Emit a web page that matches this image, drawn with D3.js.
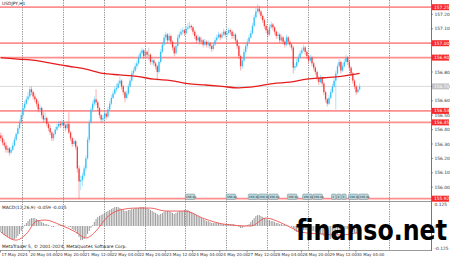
<!DOCTYPE html>
<html>
<head>
<meta charset="utf-8">
<script src="https://cdn.jsdelivr.net/npm/d3@7"></script>
<style>
  body { margin: 0; background: #fff; }
  svg { display: block; }
  text { font-family: "DejaVu Sans", sans-serif; }
</style>
</head>
<body>
<div id="chart"></div>
<script>
// USDJPY H1 bars, bar 0 = 17 May 11:00 (open of each bar = previous close)
var firstOpen = 156.36;
var closes = [
  156.34, 156.31, 156.29, 156.26, 156.27, 156.24, 156.26, 156.29, 156.33, 156.37,
  156.41, 156.45, 156.50, 156.55, 156.58, 156.61, 156.63, 156.68, 156.66, 156.63,
  156.61, 156.58, 156.54, 156.55, 156.50, 156.47, 156.48, 156.44, 156.41, 156.38,
  156.34, 156.37, 156.40, 156.42, 156.44, 156.43, 156.45, 156.43, 156.41, 156.44,
  156.38, 156.34, 156.30, 156.32, 156.28, 156.13, 156.04, 156.05, 156.08, 156.13,
  156.20, 156.33, 156.45, 156.54, 156.58, 156.61, 156.59, 156.55, 156.50, 156.47,
  156.48, 156.51, 156.49, 156.54, 156.58, 156.62, 156.65, 156.68, 156.69, 156.72,
  156.74, 156.70, 156.66, 156.62, 156.65, 156.70, 156.74, 156.79, 156.81, 156.84,
  156.86, 156.90, 156.93, 156.95, 156.91, 156.94, 156.92, 156.92, 156.87, 156.88,
  156.86, 156.84, 156.80, 156.87, 156.94, 156.99, 157.04, 157.06, 157.02, 157.05,
  157.01, 156.97, 156.93, 156.98, 157.04, 157.06, 157.08, 157.09, 157.07, 157.10,
  157.11, 157.12, 157.11, 157.08, 157.05, 157.02, 157.04, 157.01, 157.02, 156.99,
  157.01, 156.99, 157.00, 156.98, 156.96, 156.99, 157.02, 157.04, 157.06, 157.04,
  157.06, 157.08, 157.06, 157.07, 157.09, 157.08, 157.05, 157.06, 157.02, 156.98,
  156.91, 156.84, 156.88, 156.94, 156.98, 157.01, 157.04, 157.07, 157.12, 157.18,
  157.22, 157.24, 157.22, 157.19, 157.16, 157.12, 157.09, 157.06, 157.11, 157.13,
  157.11, 157.08, 157.05, 157.06, 157.02, 157.04, 157.01, 156.99, 157.04, 157.01,
  156.99, 156.97, 156.83, 156.84, 156.87, 156.90, 156.93, 156.95, 156.97, 156.94,
  156.91, 156.88, 156.90, 156.86, 156.83, 156.80, 156.76, 156.73, 156.76, 156.72,
  156.66, 156.61, 156.58, 156.62, 156.66, 156.70, 156.74, 156.79, 156.84, 156.87,
  156.81, 156.84, 156.87, 156.90, 156.87, 156.83, 156.79, 156.74, 156.70, 156.66,
  156.68, 156.70
];
var highs = [
  156.38, 156.36, 156.33, 156.31, 156.29, 156.28, 156.28, 156.31, 156.35, 156.38,
  156.43, 156.47, 156.52, 156.57, 156.60, 156.63, 156.66, 156.70, 156.70, 156.67,
  156.65, 156.62, 156.60, 156.57, 156.56, 156.52, 156.52, 156.49, 156.45, 156.43,
  156.39, 156.38, 156.42, 156.44, 156.46, 156.46, 156.47, 156.46, 156.44, 156.46,
  156.52, 156.39, 156.35, 156.34, 156.33, 156.29, 156.15, 156.08, 156.10, 156.15,
  156.22, 156.35, 156.47, 156.56, 156.60, 156.63, 156.68, 156.60, 156.56, 156.51,
  156.50, 156.53, 156.52, 156.56, 156.60, 156.64, 156.67, 156.70, 156.72, 156.74,
  156.77, 156.75, 156.71, 156.67, 156.67, 156.72, 156.76, 156.81, 156.83, 156.86,
  156.88, 156.92, 156.95, 156.97, 156.96, 156.96, 156.95, 156.97, 156.93, 156.90,
  156.89, 156.87, 156.85, 156.88, 156.96, 157.01, 157.06, 157.08, 157.07, 157.07,
  157.06, 157.02, 156.98, 157.00, 157.06, 157.08, 157.10, 157.11, 157.10, 157.12,
  157.14, 157.15, 157.13, 157.12, 157.09, 157.06, 157.06, 157.05, 157.04, 157.03,
  157.03, 157.02, 157.02, 157.01, 156.99, 157.01, 157.04, 157.06, 157.08, 157.07,
  157.08, 157.10, 157.09, 157.09, 157.11, 157.10, 157.09, 157.08, 157.07, 157.03,
  156.99, 156.92, 156.90, 156.96, 157.00, 157.03, 157.06, 157.09, 157.14, 157.20,
  157.25, 157.27, 157.26, 157.23, 157.20, 157.17, 157.13, 157.10, 157.13, 157.15,
  157.14, 157.12, 157.09, 157.08, 157.07, 157.06, 157.05, 157.02, 157.06, 157.05,
  157.02, 157.00, 156.98, 156.86, 156.89, 156.92, 156.95, 156.97, 156.99, 156.98,
  156.95, 156.92, 156.92, 156.91, 156.87, 156.84, 156.81, 156.77, 156.78, 156.77,
  156.73, 156.67, 156.62, 156.64, 156.68, 156.72, 156.76, 156.81, 156.86, 156.89,
  156.88, 156.86, 156.89, 156.92, 156.91, 156.88, 156.84, 156.80, 156.75, 156.71,
  156.70, 156.72
];
var lows = [
  156.32, 156.29, 156.27, 156.24, 156.24, 156.22, 156.23, 156.25, 156.28, 156.32,
  156.36, 156.40, 156.44, 156.48, 156.53, 156.57, 156.60, 156.62, 156.64, 156.61,
  156.59, 156.56, 156.52, 156.52, 156.48, 156.45, 156.45, 156.42, 156.39, 156.36,
  156.32, 156.32, 156.36, 156.39, 156.41, 156.41, 156.42, 156.41, 156.39, 156.40,
  156.37, 156.32, 156.28, 156.29, 156.26, 156.10, 155.92, 155.98, 156.01, 156.06,
  156.11, 156.19, 156.31, 156.44, 156.52, 156.56, 156.57, 156.53, 156.48, 156.45,
  156.45, 156.46, 156.47, 156.48, 156.53, 156.57, 156.61, 156.64, 156.66, 156.68,
  156.71, 156.68, 156.64, 156.59, 156.61, 156.64, 156.69, 156.73, 156.77, 156.80,
  156.82, 156.85, 156.89, 156.92, 156.89, 156.90, 156.90, 156.88, 156.85, 156.85,
  156.84, 156.82, 156.74, 156.79, 156.86, 156.93, 156.98, 157.02, 157.00, 157.01,
  156.99, 156.95, 156.91, 156.92, 156.97, 157.03, 157.05, 157.06, 157.05, 157.06,
  157.09, 157.10, 157.09, 157.06, 157.03, 157.00, 157.01, 156.99, 156.99, 156.97,
  156.98, 156.97, 156.97, 156.96, 156.94, 156.95, 156.98, 157.01, 157.03, 157.02,
  157.03, 157.05, 157.04, 157.04, 157.06, 157.06, 157.03, 157.03, 157.00, 156.96,
  156.89, 156.81, 156.82, 156.87, 156.92, 156.96, 157.00, 157.03, 157.06, 157.11,
  157.17, 157.21, 157.20, 157.17, 157.14, 157.10, 157.07, 157.04, 157.05, 157.10,
  157.09, 157.06, 157.03, 157.03, 157.00, 157.01, 156.99, 156.97, 156.98, 156.99,
  156.97, 156.95, 156.79, 156.81, 156.83, 156.86, 156.89, 156.92, 156.94, 156.92,
  156.89, 156.86, 156.87, 156.84, 156.81, 156.78, 156.74, 156.71, 156.72, 156.70,
  156.64, 156.59, 156.56, 156.57, 156.61, 156.65, 156.69, 156.54, 156.78, 156.83,
  156.79, 156.80, 156.83, 156.86, 156.85, 156.81, 156.77, 156.72, 156.68, 156.64,
  156.65, 156.67
];

// moving average (200), read every 10 bars
var maBars = [0, 10, 20, 30, 40, 50, 60, 70, 80, 90, 100, 110, 120, 130, 140, 150, 160, 170, 180, 190, 200, 211];
var maValues = [156.90, 156.89, 156.88, 156.86, 156.84, 156.82, 156.79, 156.78, 156.77, 156.75, 156.74,
                156.72, 156.71, 156.70, 156.69, 156.70, 156.72, 156.73, 156.75, 156.76, 156.77, 156.79];

// MACD main (histogram), one per bar
var macdHist = [
  -0.034, -0.040, -0.051, -0.057, -0.062, -0.068, -0.074, -0.080, -0.074, -0.068, -0.057, -0.045, -0.028,
  -0.011, 0.006, 0.017, 0.028, 0.040, 0.045, 0.045, 0.045, 0.040, 0.034, 0.028, 0.023,
  0.017, 0.011, 0.011, 0.006, 0.002, -0.006, -0.006, -0.002, 0.001, 0.002, 0.006, 0.006, 0.006, 0.002, 0.001, -0.006, -0.006,
  -0.017, -0.023, -0.028, -0.045, -0.062, -0.080, -0.080, -0.074, -0.062, -0.045, -0.028, -0.011,
  0.006, 0.023, 0.040, 0.051, 0.057, 0.062, 0.068, 0.074, 0.080, 0.085, 0.091, 0.097, 0.102, 0.108, 0.108, 0.108, 0.102,
  0.097, 0.091, 0.085, 0.085, 0.091, 0.091, 0.097, 0.097, 0.102, 0.102, 0.102, 0.108, 0.108, 0.108, 0.102, 0.102, 0.097, 0.091,
  0.085, 0.080, 0.074, 0.068, 0.062, 0.068, 0.074, 0.080, 0.085,
  0.085, 0.085, 0.080, 0.074, 0.068, 0.074, 0.080, 0.085, 0.085, 0.085, 0.091, 0.091,
  0.091, 0.085, 0.080, 0.074, 0.068, 0.062, 0.057, 0.051, 0.045,
  0.040, 0.034, 0.028, 0.028, 0.023, 0.017, 0.017, 0.017, 0.017, 0.017, 0.011,
  0.011, 0.011, 0.011, 0.011, 0.011, 0.011, 0.011, 0.011, 0.006, 0.002, -0.006, -0.011, -0.011, -0.006, 0.002, 0.006, 0.011, 0.023,
  0.034, 0.045, 0.057, 0.062, 0.062, 0.057, 0.051, 0.045, 0.040, 0.034,
  0.034, 0.028, 0.028, 0.023, 0.017, 0.017, 0.011, 0.011, 0.006, 0.006, 0.006, 0.002, 0.001, -0.006,
  -0.017, -0.028, -0.034, -0.034, -0.034, -0.028, -0.023, -0.023, -0.023, -0.023, -0.023, -0.028, -0.028, -0.034,
  -0.040, -0.045, -0.045, -0.051, -0.057, -0.068, -0.074, -0.074, -0.074, -0.068, -0.062, -0.057, -0.045, -0.034,
  -0.034, -0.028, -0.023, -0.017, -0.017, -0.023, -0.028, -0.034, -0.040, -0.045, -0.051, -0.057
];
// MACD signal line, read at these bars
var signalBars = [0, 9, 15, 21, 26, 35, 44, 50, 56, 62, 70, 80, 88, 97, 108, 120, 131, 147, 156, 165, 171, 176, 188, 200, 211];
var signalValues = [-0.034, -0.080, -0.045, 0.028, 0.034, 0.006, -0.034, -0.068, -0.028, 0.045, 0.091, 0.102, 0.102,
                    0.085, 0.085, 0.040, 0.011, 0.000, 0.045, 0.017, -0.011, -0.034, -0.045, -0.051, -0.034];

// horizontal levels (red) and current bid
var levels = [157.25, 157.00, 156.90, 156.53, 156.45, 155.92];
var bidPrice = 156.70;
var priceTicks = [156.0, 156.1, 156.2, 156.3, 156.4, 156.5, 156.6, 156.7, 156.8, 156.9, 157.0, 157.1, 157.2];
var macdTicks = [0.125, 0, -0.125];
var macdTickLabels = ["0.125", "0.00", "-0.125"];

// day separators and time labels (bar index)
var dayBars = [13, 37, 61, 85, 109, 133, 157, 181, 205, 229];
var timeBars = [0, 17, 33, 49, 65, 81, 97, 113, 129, 145, 161, 177, 193, 209];
var timeLabels = ["17 May 2024", "20 May 04:00", "20 May 20:00", "21 May 12:00", "22 May 04:00", "22 May 20:00",
                  "23 May 12:00", "24 May 04:00", "24 May 20:00", "27 May 12:00", "28 May 04:00", "28 May 20:00",
                  "29 May 12:00", "30 May 04:00"];

// object labels along the bottom level
var markBars = [109, 133, 146, 152, 158, 169, 178, 184, 195, 198, 201, 205, 211];
var markLabels = ["156.40", "156.40", "156.40", "156.40", "156.40", "156.40", "156.40", "156.40", "1", "2", "3", "156.40", "156.40"];

var W = 450, H = 258;
var plotRight = 431;

var svg = d3.select("#chart").append("svg").attr("width", W).attr("height", H);

var x = d3.scaleLinear().domain([0, 253.5]).range([0, plotRight]);
var y = d3.scaleLinear().domain([155.9, 157.3]).range([201.6, 0]);
var ym = d3.scaleLinear().domain([-0.125, 0.125]).range([248, 204]);

var bars = closes.map(function (c, i) {
  return { i: i, o: i === 0 ? firstOpen : closes[i - 1], c: c, h: highs[i], l: lows[i] };
});

// frame
svg.append("line").attr("x1", 0).attr("x2", plotRight).attr("y1", 201.5).attr("y2", 201.5).attr("stroke", "#9a9a9a");
svg.append("line").attr("x1", 0).attr("x2", plotRight).attr("y1", 250.5).attr("y2", 250.5).attr("stroke", "#9a9a9a");
svg.append("line").attr("x1", plotRight + 0.5).attr("x2", plotRight + 0.5).attr("y1", 0).attr("y2", 251).attr("stroke", "#777");

// day grid
svg.append("g").selectAll("line").data(dayBars).join("line")
  .attr("x1", function (d) { return Math.round(x(d)) + 0.5; })
  .attr("x2", function (d) { return Math.round(x(d)) + 0.5; })
  .attr("y1", 0).attr("y2", 250)
  .attr("stroke", "#8c8c8c").attr("stroke-dasharray", "1.2,1.2");

// bid line
svg.append("line").attr("x1", 0).attr("x2", plotRight)
  .attr("y1", y(bidPrice)).attr("y2", y(bidPrice)).attr("stroke", "#dadada");

// level lines
svg.append("g").selectAll("line").data(levels).join("line")
  .attr("x1", 0).attr("x2", plotRight)
  .attr("y1", function (d) { return y(d); }).attr("y2", function (d) { return y(d); })
  .attr("stroke", "#ff6a6a").attr("stroke-opacity", 0.75).attr("stroke-width", 1.8);

// candles
function candleColor(d) {
  if (d.c > d.o) return "#36bff5";
  if (d.c < d.o) return "#f43c3c";
  return "#8f8f8f";
}
var cg = svg.append("g");
cg.selectAll("line").data(bars).join("line")
  .attr("x1", function (d) { return x(d.i + 0.5); })
  .attr("x2", function (d) { return x(d.i + 0.5); })
  .attr("y1", function (d) { return y(d.h); })
  .attr("y2", function (d) { return y(d.l); })
  .attr("stroke", candleColor).attr("stroke-width", 0.6).attr("stroke-opacity", 0.7);
cg.selectAll("rect").data(bars).join("rect")
  .attr("x", function (d) { return x(d.i + 0.5) - 0.65; })
  .attr("width", 1.3)
  .attr("y", function (d) { return y(Math.max(d.o, d.c)); })
  .attr("height", function (d) { return Math.max(0.8, Math.abs(y(d.o) - y(d.c))); })
  .attr("fill", candleColor);

// moving average
svg.append("path")
  .datum(maBars.map(function (b, k) { return [b, maValues[k]]; }))
  .attr("fill", "none").attr("stroke", "#e51d1d").attr("stroke-width", 1.3)
  .attr("d", d3.line().curve(d3.curveMonotoneX)
    .x(function (d) { return x(d[0] + 0.5); })
    .y(function (d) { return y(d[1]); }));

// object labels on the bottom level
var mg = svg.append("g").selectAll("g").data(markBars).join("g")
  .attr("transform", function (d) { return "translate(" + x(d) + ",194)"; });
mg.append("rect").attr("width", function (d, k) { return markLabels[k].length > 2 ? 9.6 : 4.5; })
  .attr("height", 5.5).attr("rx", 1)
  .attr("fill", "#b9d3d6").attr("stroke", "#6f8f94").attr("stroke-width", 0.5);
mg.append("text").attr("x", 0.8).attr("y", 4.1).attr("font-size", 2.9).attr("fill", "#234")
  .text(function (d, k) { return markLabels[k]; });

// price axis
var pa = svg.append("g");
pa.selectAll("line").data(priceTicks).join("line")
  .attr("x1", plotRight).attr("x2", plotRight + 2)
  .attr("y1", function (d) { return y(d); }).attr("y2", function (d) { return y(d); })
  .attr("stroke", "#555").attr("stroke-width", 0.6);
pa.selectAll("text").data(priceTicks).join("text")
  .attr("x", plotRight + 3.5).attr("y", function (d) { return y(d) + 1.6; })
  .attr("font-size", 4.4).attr("fill", "#333")
  .text(function (d) { return d.toFixed(2); });

// level tags
var lt = svg.append("g").selectAll("g").data(levels).join("g")
  .attr("transform", function (d) { return "translate(" + (plotRight + 1) + "," + y(d) + ")"; });
lt.append("rect").attr("x", 0).attr("y", -3).attr("width", 17).attr("height", 6).attr("fill", "#f52a2a");
lt.append("text").attr("x", 2).attr("y", 1.6).attr("font-size", 4.4).attr("fill", "#fff")
  .text(function (d) { return d.toFixed(2); });
svg.append("rect").attr("x", plotRight + 1).attr("y", y(bidPrice) - 3).attr("width", 17).attr("height", 6).attr("fill", "#c4c4c4");
svg.append("text").attr("x", plotRight + 3).attr("y", y(bidPrice) + 1.6).attr("font-size", 4.4).attr("fill", "#fff")
  .text(bidPrice.toFixed(2));

// MACD histogram and signal
svg.append("g").selectAll("line").data(macdHist).join("line")
  .attr("x1", function (d, i) { return x(i + 0.5); })
  .attr("x2", function (d, i) { return x(i + 0.5); })
  .attr("y1", ym(0)).attr("y2", function (d) { return ym(d); })
  .attr("stroke", "#8e8e8e").attr("stroke-width", 0.9);
svg.append("path")
  .datum(signalBars.map(function (b, k) { return [b, signalValues[k]]; }))
  .attr("fill", "none").attr("stroke", "#f0504f").attr("stroke-width", 0.9)
  .attr("d", d3.line().curve(d3.curveMonotoneX)
    .x(function (d) { return x(d[0] + 0.5); })
    .y(function (d) { return ym(d[1]); }));

var ma = svg.append("g");
ma.selectAll("text").data(macdTicks).join("text")
  .attr("x", plotRight + 3.5).attr("y", function (d) { return ym(d) + 1.6; })
  .attr("font-size", 4.4).attr("fill", "#333")
  .text(function (d, k) { return macdTickLabels[k]; });

// time axis
var ta = svg.append("g");
ta.selectAll("line").data(timeBars).join("line")
  .attr("x1", function (d) { return x(d) + 0.5; }).attr("x2", function (d) { return x(d) + 0.5; })
  .attr("y1", 250.5).attr("y2", 252.5).attr("stroke", "#555").attr("stroke-width", 0.6);
ta.selectAll("text").data(timeBars).join("text")
  .attr("x", function (d) { return x(d) + 1.5; }).attr("y", 256)
  .attr("font-size", 4).attr("fill", "#333")
  .text(function (d, k) { return timeLabels[k]; });

// captions
svg.append("text").attr("x", 2).attr("y", 5).attr("font-size", 4.4).attr("fill", "#222").text("USDJPY,H1");
svg.append("text").attr("x", 2).attr("y", 208.5).attr("font-size", 4.4).attr("fill", "#222")
  .text("MACD(12,26,9) -0.059 -0.015");
svg.append("text").attr("x", 2).attr("y", 248).attr("font-size", 4.4).attr("fill", "#222")
  .text("MetaTrader 5, \u00a9 2001-2024, MetaQuotes Software Corp.");

// watermark
svg.append("text").attr("x", 296).attr("y", 240)
  .attr("font-family", "'Liberation Sans', Arial, sans-serif").attr("font-weight", "bold")
  .attr("font-size", 29).attr("textLength", 151).attr("lengthAdjust", "spacingAndGlyphs")
  .attr("fill", "#000").text("finanso.net");
</script>
</body>
</html>
